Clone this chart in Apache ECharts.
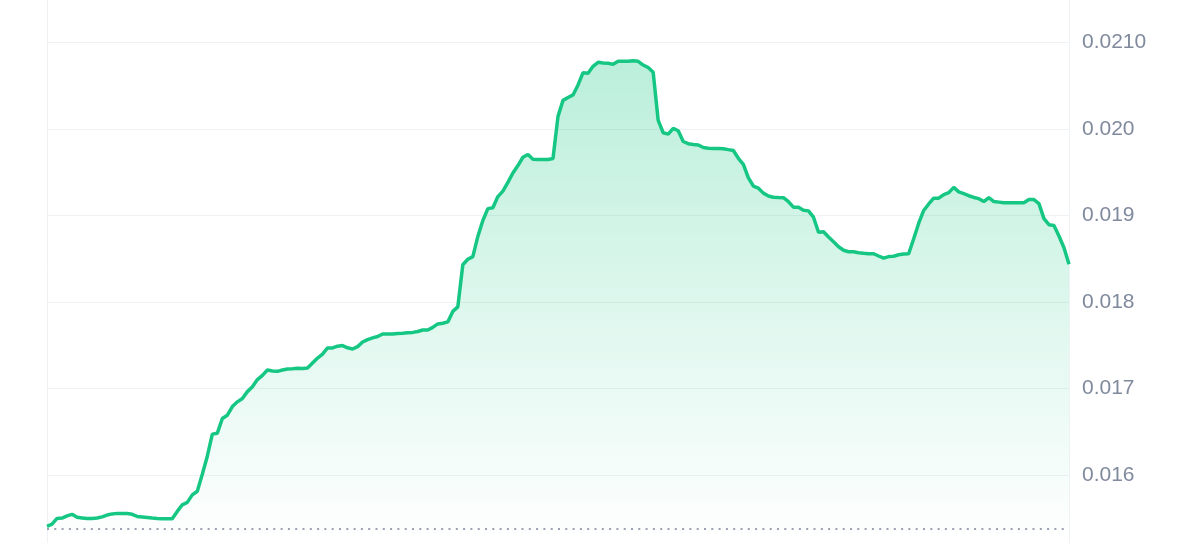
<!DOCTYPE html>
<html>
<head>
<meta charset="utf-8">
<title>Price chart</title>
<script src="https://cdn.jsdelivr.net/npm/echarts@6/dist/echarts.min.js"></script>
<style>
  html, body { margin: 0; padding: 0; background: #fff; }
  #chart { width: 1200px; height: 543px; }
</style>
</head>
<body>
<div id="chart"></div>
<script>
// price samples, evenly spaced over the day
var prices = [
  0.015410, 0.015436, 0.015502, 0.015506, 0.015531, 0.015549, 0.015514, 0.015508, 0.015502, 0.015502,
  0.015506, 0.015520, 0.015541, 0.015554, 0.015560, 0.015560, 0.015558, 0.015549, 0.015525, 0.015519,
  0.015513, 0.015507, 0.015502, 0.015499, 0.015497, 0.015499, 0.015583, 0.015659, 0.015687, 0.015774,
  0.015815, 0.016012, 0.016220, 0.016475, 0.016486, 0.016656, 0.016694, 0.016794, 0.016848, 0.016887,
  0.016966, 0.017022, 0.017105, 0.017154, 0.017215, 0.017204, 0.017200, 0.017215, 0.017227, 0.017231,
  0.017236, 0.017234, 0.017238, 0.017296, 0.017354, 0.017400, 0.017470, 0.017470, 0.017491, 0.017498,
  0.017472, 0.017458, 0.017486, 0.017539, 0.017566, 0.017586, 0.017602, 0.017632, 0.017632, 0.017632,
  0.017637, 0.017640, 0.017645, 0.017650, 0.017660, 0.017678, 0.017678, 0.017708, 0.017748, 0.017756,
  0.017771, 0.017892, 0.017944, 0.018431, 0.018495, 0.018525, 0.018758, 0.018942, 0.019079, 0.019090,
  0.019218, 0.019281, 0.019382, 0.019490, 0.019576, 0.019672, 0.019704, 0.019649, 0.019646, 0.019646,
  0.019646, 0.019657, 0.020144, 0.020329, 0.020362, 0.020392, 0.020507, 0.020649, 0.020641, 0.020722,
  0.020769, 0.020760, 0.020757, 0.020745, 0.020780, 0.020780, 0.020781, 0.020787, 0.020780, 0.020737,
  0.020708, 0.020653, 0.020097, 0.019955, 0.019939, 0.020005, 0.019978, 0.019854, 0.019829, 0.019819,
  0.019814, 0.019785, 0.019777, 0.019773, 0.019773, 0.019771, 0.019760, 0.019750, 0.019660, 0.019591,
  0.019434, 0.019340, 0.019315, 0.019258, 0.019225, 0.019211, 0.019208, 0.019206, 0.019159, 0.019096,
  0.019096, 0.019061, 0.019053, 0.018980, 0.018807, 0.018812, 0.018751, 0.018697, 0.018639, 0.018598,
  0.018581, 0.018581, 0.018569, 0.018563, 0.018558, 0.018558, 0.018532, 0.018507, 0.018525, 0.018529,
  0.018546, 0.018554, 0.018558, 0.018731, 0.018911, 0.019058, 0.019133, 0.019200, 0.019200, 0.019241,
  0.019264, 0.019324, 0.019272, 0.019252, 0.019228, 0.019208, 0.019194, 0.019160, 0.019206, 0.019160,
  0.019154, 0.019148, 0.019148, 0.019148, 0.019148, 0.019148, 0.019183, 0.019183, 0.019137, 0.018963,
  0.018894, 0.018885, 0.018763, 0.018627, 0.018436
];

// opening price, shown as the dotted reference line
var openPrice = 0.015381;

// visible price range of the plot
var yMin = 0.015218;
var yMax = 0.021488;

// y axis tick labels, from 0.016 upwards
var tickValues = [0.016, 0.017, 0.018, 0.019, 0.020, 0.021];
var tickLabels = ['0.016', '0.017', '0.018', '0.019', '0.020', '0.0210'];

// time labels for the hidden x axis
var times = [];
for (var i = 0; i < prices.length; i++) {
  var m = i * 7;
  var hh = Math.floor(m / 60) % 24;
  var mm = m % 60;
  times.push((hh < 10 ? '0' : '') + hh + ':' + (mm < 10 ? '0' : '') + mm);
}

var GREEN = '#16c784';
var GRID_LINE = '#eff2f5';

function labelFor(value) {
  for (var k = 0; k < tickValues.length; k++) {
    if (Math.abs(value - tickValues[k]) < 1e-7) return tickLabels[k];
  }
  return '';
}

var chart = echarts.init(document.getElementById('chart'));

chart.setOption({
  animation: false,
  grid: {
    left: 47,
    right: 131,
    top: 0,
    bottom: 0,
    containLabel: false,
  },
  xAxis: {
    type: 'category',
    data: times,
    boundaryGap: false,
    show: false,
  },
  yAxis: [
    {
      type: 'value',
      position: 'left',
      min: yMin,
      max: yMax,
      axisLine: { show: true, lineStyle: { color: GRID_LINE, width: 1 } },
      axisTick: { show: false },
      axisLabel: { show: false },
      splitLine: { show: false },
    },
    {
      type: 'value',
      position: 'right',
      min: yMin,
      max: yMax,
      splitNumber: 6,
      minInterval: 0.001,
      maxInterval: 0.001,
      axisLine: { show: true, lineStyle: { color: GRID_LINE, width: 1 } },
      axisTick: { show: false },
      splitLine: {
        show: true,
        showMinLine: false,
        showMaxLine: false,
        lineStyle: { color: GRID_LINE, width: 1 },
      },
      axisLabel: {
        margin: 13,
        color: '#808a9d',
        fontSize: 21,
        fontFamily: 'Liberation Sans, Arial, sans-serif',
        showMinLabel: false,
        showMaxLabel: false,
        formatter: labelFor,
      },
    },
  ],
  series: [
    {
      type: 'line',
      yAxisIndex: 1,
      data: prices,
      symbol: 'none',
      smooth: false,
      lineStyle: { color: GREEN, width: 3.5 },
      areaStyle: {
        origin: 'start',
        color: new echarts.graphic.LinearGradient(0, 0, 0, 1, [
          { offset: 0, color: 'rgba(22, 199, 132, 0.42)' },
          { offset: 1, color: 'rgba(22, 199, 132, 0)' },
        ]),
      },
      markLine: {
        silent: true,
        symbol: 'none',
        precision: 6,
        label: { show: false },
        lineStyle: { color: '#9ba1b0', width: 2, type: [2, 5.3] },
        data: [{ yAxis: openPrice }],
      },
      z: 3,
    },
  ],
});

window.addEventListener('resize', function () {
  chart.resize();
});
</script>
</body>
</html>
